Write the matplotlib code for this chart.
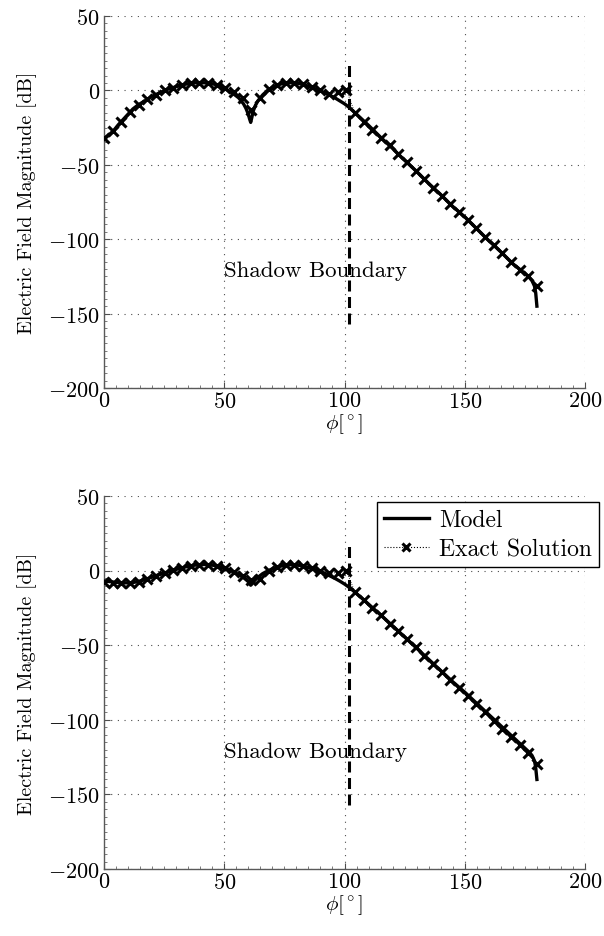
import matplotlib
matplotlib.use("Agg")
import matplotlib.pyplot as plt
from matplotlib.ticker import MultipleLocator
from matplotlib.lines import Line2D

plt.rcParams['font.family'] = ['cmr10', 'DejaVu Serif']
plt.rcParams['mathtext.fontset'] = 'cm'
plt.rcParams['axes.formatter.use_mathtext'] = True
plt.rcParams['font.size'] = 16

# ---------------- data ----------------
phi_model = [0, 2, 4, 6, 8, 10, 12, 14, 16, 18, 20, 22, 24, 26, 28, 30, 32, 34, 36, 38,
             40, 42, 44, 46, 48, 50, 52, 54, 56, 57, 58, 59, 60, 60.5, 61, 61.5, 62, 63,
             64, 66, 68, 70, 72, 74, 76, 78, 80, 82, 84, 86, 88, 90, 92, 94, 96, 98, 100,
             102, 104, 106, 110, 115, 120, 125, 130, 135, 140, 145, 150, 155, 160, 165,
             170, 175, 177, 178, 179, 179.5, 180]

model_top = [-33, -30, -27, -23, -19.5, -16, -12.5, -10, -8, -6, -4, -2.5, -1, 0.5, 1.5,
             2.5, 3.5, 4.2, 4.8, 5.1, 5.2, 5.1, 4.8, 4.1, 3, 1.5, -0.5, -2.5, -5, -7, -9,
             -12, -16, -19, -21.5, -18, -14, -10, -7, -3, 0, 2, 3.5, 4.5, 5, 5.2, 5, 4.3,
             3.3, 2.2, 1, -0.3, -1.8, -3.3, -5, -7, -9, -11.5, -14.5, -17.5, -23.5, -31.5,
             -39, -47, -54.5, -62.5, -70, -78, -85, -93, -101, -108.5, -116.5, -123, -126,
             -128, -131.5, -136, -145]

model_bot = [-7, -7.3, -7.7, -8, -8.2, -8.2, -8, -7.4, -6.5, -5.5, -4.3, -3.2, -2.2, -1.2,
             -0.2, 0.8, 1.7, 2.5, 3.2, 3.7, 4, 4.1, 3.9, 3.4, 2.6, 1.6, 0.4, -1, -2.6, -3.6,
             -4.7, -6, -7.4, -8.5, -9.8, -9, -7.8, -6, -4.5, -2, -0.3, 1.2, 2.3, 3.2, 3.8,
             4, 3.8, 3.3, 2.5, 1.6, 0.5, -0.7, -2, -3.6, -5.2, -7, -9, -11.3, -14, -16.8,
             -22.5, -29.7, -37, -44.5, -52, -59.5, -67, -74.5, -81.5, -89, -96.5, -104,
             -111.5, -119, -122, -124, -127.5, -132, -140]

phi_exact = [0, 3.6, 7.2, 10.8, 14.4, 18, 21.6, 25.2, 28.8, 32.4, 36, 39.6, 43.2, 46.8,
             50.4, 54, 57.6, 61.2, 64.8, 68.4, 72, 75.6, 79.2, 82.8, 86.4, 90, 93.6, 97.2,
             100.8, 104.4, 108, 111.6, 115.2, 118.8, 122.4, 126, 129.6, 133.2, 136.8,
             140.4, 144, 147.6, 151.2, 154.8, 158.4, 162, 165.6, 169.2, 172.8, 176.4, 180]

exact_top = [-32, -27.5, -21, -14.5, -9.5, -6, -3, 0, 1.8, 3.6, 4.7, 5.2, 5, 3.8, 1.3, -1,
             -5, -13, -5, 1, 3.8, 5.2, 5.3, 4.5, 2.6, 0, -2.5, -1, 0.5, -15.5, -21, -26.5,
             -32, -37, -42.5, -48, -54, -59.5, -65.5, -71, -76.5, -82, -87, -92.5, -98.5,
             -104, -109.5, -115.5, -120.5, -125, -131.5]

exact_bot = [-7.5, -8, -8.3, -8.4, -7.6, -5.8, -3.5, -1.6, 0.2, 2, 3.3, 4, 4, 3.2, 1.5, -1,
             -3.8, -6, -5.5, -0.5, 2.3, 3.8, 4, 3.2, 1.8, 0, -1.8, -1.3, -0.5, -14.5, -20,
             -25, -30, -35.5, -40.5, -46, -51.5, -57, -62.5, -68, -73.5, -79, -84, -89.5,
             -95, -100.5, -106, -111.5, -117, -122, -129.5]

shadow_phi = 102
shadow_range = [-157, 20]
x_ticks = [0, 50, 100, 150, 200]
y_ticks = [-200, -150, -100, -50, 0, 50]

# ---------------- figure ----------------
W, H = 604, 937
fig = plt.figure(figsize=(W / 100, H / 100), dpi=100)

def px_axes(x0, x1, y0, y1):
    return fig.add_axes([x0 / W, 1 - y1 / H, (x1 - x0) / W, (y1 - y0) / H])

ax_top = px_axes(104, 585, 17, 389)
ax_bot = px_axes(104, 585, 497, 870)

for ax, model, exact in [(ax_top, model_top, exact_top), (ax_bot, model_bot, exact_bot)]:
    ax.set_xlim(0, 200)
    ax.set_ylim(-200, 50)
    ax.set_xticks(x_ticks)
    ax.set_yticks(y_ticks)
    ax.xaxis.set_minor_locator(MultipleLocator(5))
    ax.yaxis.set_minor_locator(MultipleLocator(5))
    ax.tick_params(which='major', direction='in', length=4, width=0.8, color='0.3',
                   top=False, right=False, labelsize=16, pad=3)
    ax.tick_params(which='minor', direction='in', length=2, width=0.6, color='0.4',
                   top=False, right=False)
    ax.tick_params(axis='x', which='major', pad=2)
    for s in ['top', 'right']:
        ax.spines[s].set_visible(False)
    for s in ['left', 'bottom']:
        ax.spines[s].set_color('0.35')
        ax.spines[s].set_linewidth(1.0)
    ax.grid(True, which='major', color='0.3', linestyle=(0, (1, 5)), linewidth=0.8)
    ax.set_axisbelow(True)

    ax.plot(phi_model, model, color='black', linewidth=2.4, solid_joinstyle='round',
            label='Model', zorder=3)
    ax.plot(phi_exact, exact, color='black', linestyle=':', linewidth=0.6, marker='x',
            markersize=7.5, markeredgewidth=2.2, label='Exact Solution', zorder=4)
    ax.plot([shadow_phi, shadow_phi], shadow_range, color='black', linestyle=(0, (3.6, 1.8)),
            linewidth=2.2, zorder=2)
    ax.text(50, -121, 'Shadow Boundary', fontsize=16.5, ha='left', va='center', zorder=5)
    ax.set_ylabel('Electric Field Magnitude [dB]', fontsize=14.5, labelpad=8)
    ax.set_xlabel(r'$\phi[^\circ]$', fontsize=15, labelpad=0)

handles = [Line2D([], [], color='black', linewidth=2.4),
           Line2D([], [], color='black', linestyle=':', linewidth=0.8, marker='x',
                  markersize=6, markeredgewidth=2.2)]
leg = ax_bot.legend(handles, ['Model', 'Exact Solution'], loc='upper right',
                    bbox_to_anchor=(1.03, 0.985), fancybox=False, edgecolor='black',
                    framealpha=1, fontsize=17, handlelength=1.9, handletextpad=0.45,
                    borderpad=0.3, labelspacing=0.3, borderaxespad=0.0)
leg.get_frame().set_linewidth(1.0)

fig.savefig('out.png', dpi=100)
